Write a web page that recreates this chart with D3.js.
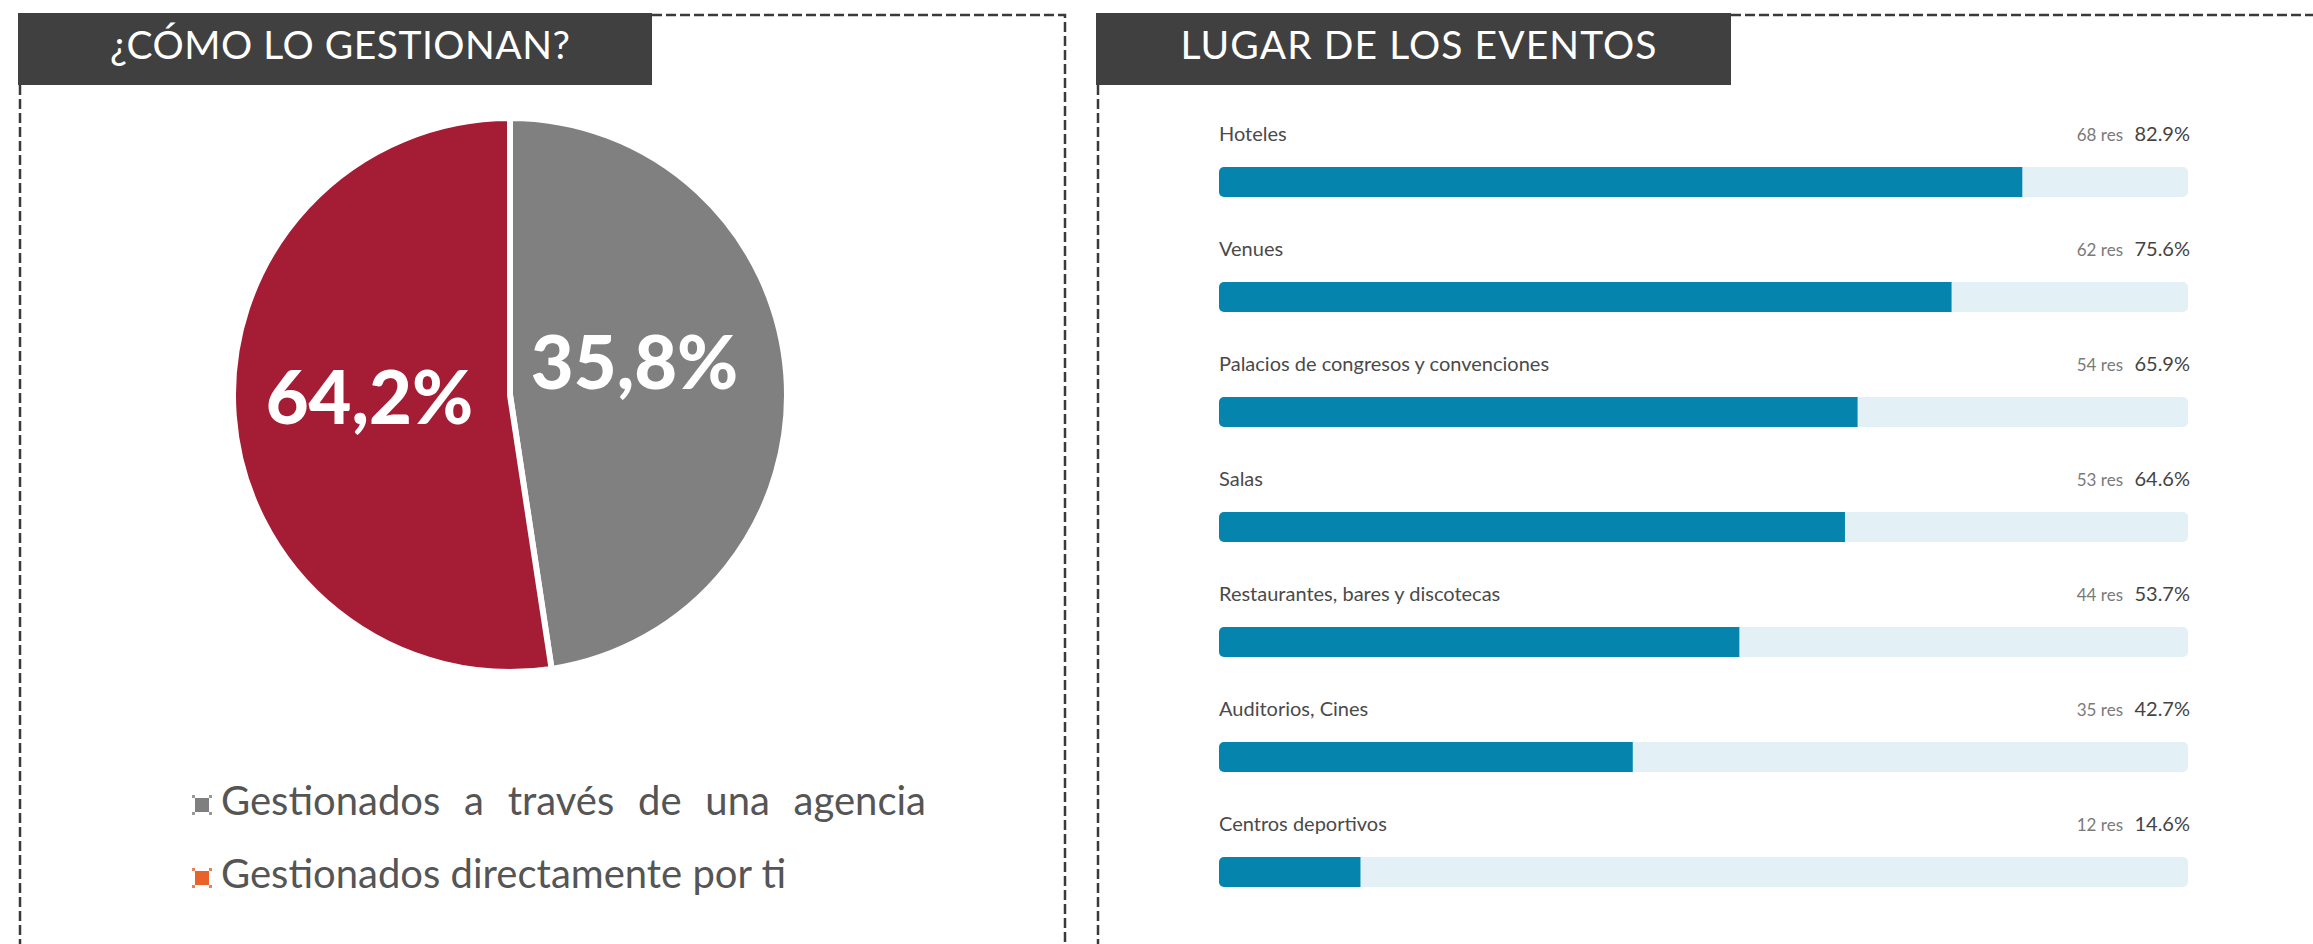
<!DOCTYPE html>
<html>
<head>
<meta charset="utf-8">
<script src="https://cdn.jsdelivr.net/npm/d3@7"></script>
<style>
  body { margin: 0; background: #fff; }
  svg { display: block; }
</style>
</head>
<body>
<svg id="chart"></svg>
<script>
var width = 2313
var height = 944

// left panel: pie
var pieTitle = "¿CÓMO LO GESTIONAN?"
var pieCategories = ["Gestionados a través de una agencia", "Gestionados directamente por ti"]
var pieShares = [47.6, 52.4]          // slice sizes as drawn in the picture
var pieLabels = ["35,8%", "64,2%"]    // printed labels
var pieColors = ["#808080", "#a51c35"]
var legendColors = ["#7f7f7f", "#e8622a"]

// right panel: bars
var barTitle = "LUGAR DE LOS EVENTOS"
var places = ["Hoteles", "Venues", "Palacios de congresos y convenciones", "Salas",
  "Restaurantes, bares y discotecas", "Auditorios, Cines", "Centros deportivos"]
var responses = [68, 62, 54, 53, 44, 35, 12]
var percents = [82.9, 75.6, 65.9, 64.6, 53.7, 42.7, 14.6]

var svg = d3.select("#chart")
  .attr("width", width)
  .attr("height", height)

// panel frames (dashed) + dark title boxes
function panel(x0, x1, boxRight, title, titleLen) {
  var dash = "10,4"
  var path = d3.path()
  path.moveTo(boxRight, 15)
  path.lineTo(x1, 15)
  if (x1 < width) path.lineTo(x1, height)
  svg.append("path")
    .attr("d", path.toString())
    .attr("fill", "none")
    .attr("stroke", "#3a3a3a")
    .attr("stroke-width", 2.5)
    .attr("stroke-dasharray", dash)
  svg.append("line")
    .attr("x1", x0 + 2).attr("x2", x0 + 2)
    .attr("y1", 85).attr("y2", height)
    .attr("stroke", "#3a3a3a")
    .attr("stroke-width", 2.5)
    .attr("stroke-dasharray", dash)
  svg.append("rect")
    .attr("x", x0).attr("y", 13)
    .attr("width", boxRight - x0).attr("height", 72)
    .attr("fill", "#404040")
  svg.append("text")
    .attr("x", (x0 + boxRight) / 2 + 5)
    .attr("y", 59)
    .attr("text-anchor", "middle")
    .attr("font-family", "Lato, sans-serif")
    .attr("font-size", 39)
    .attr("fill", "#fff")
    .attr("textLength", titleLen)
    .attr("lengthAdjust", "spacing")
    .text(title)
}

panel(18, 1065, 652, pieTitle, 460)
panel(1096, width + 10, 1731, barTitle, 476)

// ---- pie ----
var radius = 277
var pieG = svg.append("g").attr("transform", "translate(510,395)")

var pie = d3.pie().sort(null).value(d => d)
var arcs = pie(pieShares)
var arc = d3.arc().innerRadius(0).outerRadius(radius)
var labelArc = d3.arc().innerRadius(145).outerRadius(145)
var labelNudge = [[-20, -24], [4, -10]]

pieG.selectAll("path")
  .data(arcs)
  .enter()
  .append("path")
  .attr("d", arc)
  .attr("fill", (d, i) => pieColors[i])
  .attr("stroke", "#fff")
  .attr("stroke-width", 6)
  .attr("stroke-linejoin", "round")

pieG.selectAll("text")
  .data(arcs)
  .enter()
  .append("text")
  .attr("x", (d, i) => labelArc.centroid(d)[0] + labelNudge[i][0])
  .attr("y", (d, i) => labelArc.centroid(d)[1] + labelNudge[i][1])
  .attr("text-anchor", "middle")
  .attr("dominant-baseline", "central")
  .attr("font-family", "Lato, sans-serif")
  .attr("font-weight", 900)
  .attr("font-size", 74)
  .attr("fill", "#fff")
  .text((d, i) => pieLabels[i])

// ---- legend ----
var legendY = d3.scaleBand().domain(pieCategories).range([778, 924])
var legend = svg.selectAll("g.legend")
  .data(pieCategories)
  .enter()
  .append("g")
  .attr("class", "legend")
  .attr("transform", d => "translate(0," + (legendY(d) + 37) + ")")

legend.append("rect")
  .attr("x", 195).attr("y", -17)
  .attr("width", 14).attr("height", 14)
  .attr("fill", (d, i) => legendColors[i])

var corners = [[192, -20], [209, -20], [192, -3], [209, -3]]
legend.each(function (d, i) {
  d3.select(this).selectAll("rect.corner")
    .data(corners)
    .enter()
    .append("rect")
    .attr("class", "corner")
    .attr("x", c => c[0]).attr("y", c => c[1])
    .attr("width", 3).attr("height", 3)
    .attr("fill", legendColors[i])
    .attr("opacity", 0.8)
})

var legendText = legend.append("text")
  .attr("x", 221)
  .attr("y", 0)
  .attr("font-family", "Lato, sans-serif")
  .attr("font-size", 40)
  .attr("fill", "#555")
  .text(d => d)

// first line is justified to the right edge
legendText.filter((d, i) => i === 0).each(function (d) {
  var natural = this.getComputedTextLength()
  var spaces = d.split(" ").length - 1
  d3.select(this).attr("word-spacing", (926 - 221 - natural) / spaces)
})

// ---- bars ----
var x = d3.scaleLinear().domain([0, 100]).range([1219, 2188])
var y = d3.scaleBand().domain(places).range([118, 923])

var rows = svg.selectAll("g.row")
  .data(places)
  .enter()
  .append("g")
  .attr("class", "row")
  .attr("transform", d => "translate(0," + y(d) + ")")

rows.append("rect")
  .attr("x", x(0)).attr("y", 49)
  .attr("width", x(100) - x(0)).attr("height", 30)
  .attr("rx", 5)
  .attr("fill", "#e3f1f7")

rows.append("path")
  .attr("d", (d, i) => {
    var w = x(percents[i]) - x(0), r = 5, h = 30
    return "M" + (x(0) + r) + ",49 H" + (x(0) + w) + " V" + (49 + h) + " H" + (x(0) + r) +
      " A" + r + "," + r + " 0 0 1 " + x(0) + "," + (49 + h - r) + " V" + (49 + r) +
      " A" + r + "," + r + " 0 0 1 " + (x(0) + r) + ",49 Z"
  })
  .attr("fill", "#0585ad")

rows.append("text")
  .attr("x", x(0))
  .attr("y", 23)
  .attr("font-family", "Lato, sans-serif")
  .attr("font-size", 20)
  .attr("fill", "#4a4a4a")
  .text(d => d)

rows.append("text")
  .attr("x", x(100) + 2)
  .attr("y", 23)
  .attr("text-anchor", "end")
  .attr("font-family", "Lato, sans-serif")
  .attr("font-size", 20)
  .attr("fill", "#444")
  .text((d, i) => percents[i].toFixed(1) + "%")

rows.append("text")
  .attr("x", x(100) - 65)
  .attr("y", 23)
  .attr("text-anchor", "end")
  .attr("font-family", "Lato, sans-serif")
  .attr("font-size", 17)
  .attr("fill", "#7a7a7a")
  .text((d, i) => responses[i] + " res")
</script>
</body>
</html>
